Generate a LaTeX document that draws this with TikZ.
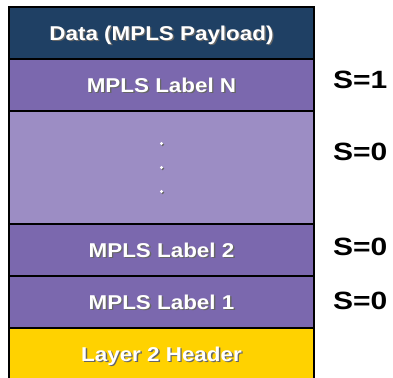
\documentclass[tikz,border=0pt]{standalone}
\usepackage{fontspec}
\setmainfont{Liberation Sans}
\newfontfamily\rowfont[FakeStretch=1.12]{Liberation Sans}
\newfontfamily\flagfont[FakeStretch=1.2]{Liberation Sans}
\usetikzlibrary{positioning}

\definecolor{payloadblue}{RGB}{31,64,100}
\definecolor{labelpurple}{RGB}{123,104,174}
\definecolor{gappurple}{RGB}{156,141,196}
\definecolor{headeryellow}{RGB}{255,210,0}

\newcommand{\shadowtext}[1]{\leavevmode\rlap{\kern1.4pt\raisebox{-1.4pt}{\textcolor{black!60}{#1}}}\textcolor{white}{#1}}

\tikzset{
  row/.style={draw=black, line width=1.6pt, minimum width=305pt, outer sep=0pt, inner sep=0pt,
    text height=14.4pt, text depth=0pt, font=\rowfont\bfseries\fontsize{20}{24}\selectfont},
  sflag/.style={anchor=west, inner sep=0pt, font=\flagfont\bfseries\fontsize{25}{30}\selectfont}
}

\begin{document}
\begin{tikzpicture}[x=1pt,y=1pt]
	\useasboundingbox (0,0) rectangle (393,377);
	% the stack
	\node[row, fill=payloadblue, minimum height=52pt] (data) at (161.5,344) {\shadowtext{Data (MPLS Payload)}};
	\node[row, fill=labelpurple, minimum height=52pt, below=0pt of data] (labeln) {\shadowtext{MPLS Label N}};
	\node[row, fill=gappurple, minimum height=113pt, below=0pt of labeln] (gap) {};
	\node[row, fill=labelpurple, minimum height=52pt, below=0pt of gap] (label2) {\shadowtext{MPLS Label 2}};
	\node[row, fill=labelpurple, minimum height=52pt, below=0pt of label2] (label1) {\shadowtext{MPLS Label 1}};
	\node[row, fill=headeryellow, minimum height=52pt, below=0pt of label1] (header) {\shadowtext{Layer 2 Header}};
	\foreach \dy in {24,0,-24} {
		\fill[black!60] ([shift={(1.2,\dy-1.2)}]gap.center) circle (1.6pt);
		\fill[white] ([yshift=\dy]gap.center) circle (1.6pt);
	}
	% bottom of stack bits
	\node[sflag] (sn) at (333,297) {S=1};
	\node[sflag] (sgap) at (333,225) {S=0};
	\node[sflag] (s2) at (333,130.5) {S=0};
	\node[sflag] (s1) at (333,76) {S=0};
\end{tikzpicture}
\end{document}
